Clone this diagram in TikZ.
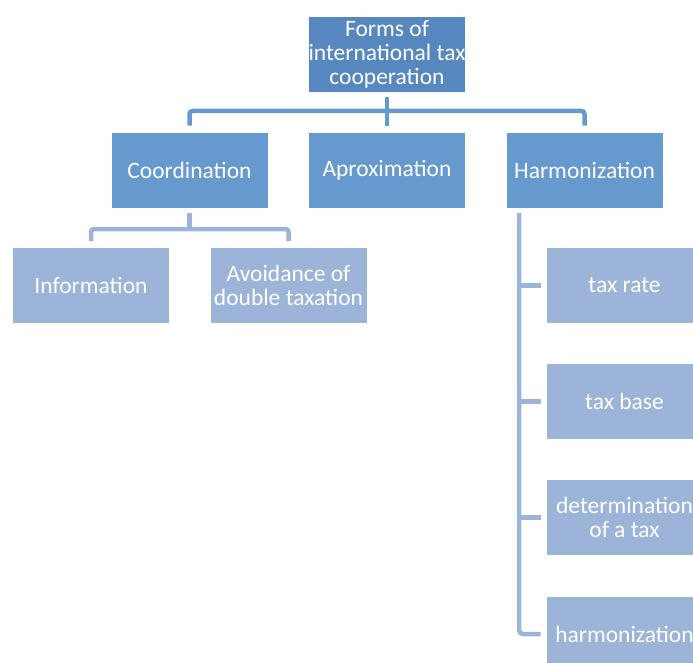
\documentclass[tikz,border=0pt]{standalone}
\usepackage{fontspec}
\setmainfont{Carlito}
\definecolor{cTop}{HTML}{5787BF}
\definecolor{cMid}{HTML}{6699CD}
\definecolor{cLow}{HTML}{9CB4D8}
\tikzset{
  box/.style={rectangle, minimum width=157pt, minimum height=76pt, inner sep=0pt,
    draw=white, line width=0.8pt, text=white, align=center,
    font=\fontsize{23.5}{24}\selectfont},
  topbox/.style={box, fill=cTop},
  midbox/.style={box, fill=cMid},
  lowbox/.style={box, fill=cLow},
  conntop/.style={draw=cMid, line width=4.5pt},
  connlow/.style={draw=cLow, line width=4.5pt},
}
\begin{document}
\begin{tikzpicture}[x=1pt,y=-1pt]
\useasboundingbox (0,0) rectangle (693,663);
\clip (0,0) rectangle (693,663);
\node[topbox] (top) at (387,54) {Forms of\\international tax\\cooperation};
\node[midbox] (coord) at (189.5,170) {Coordination};
\node[midbox] (aprox) at (387,170) {Aproximation};
\node[midbox] (harm) at (584.5,170) {Harmonization};
\node[lowbox] (info) at (91,285.5) {Information};
\node[lowbox] (avoid) at (288.5,285.5) {Avoidance of\\double taxation};
\node[lowbox] (h1) at (624.5,285.5) {tax rate};
\node[lowbox] (h2) at (624.5,401.5) {tax base};
\node[lowbox] (h3) at (624.5,517.5) {determination\\of a tax};
\node[lowbox] (h4) at (624.5,634) {harmonization};
% top connector
\coordinate (bar) at (387,111);
\draw[conntop] ([yshift=-5pt]top.south) -- ([yshift=6pt]aprox.north);
\draw[conntop, rounded corners=3pt] ([yshift=6pt]coord.north) |- (bar) -| ([yshift=6pt]harm.north);
% coordination connector
\coordinate (cbar) at (189.5,229);
\draw[connlow] ([yshift=-5pt]coord.south) -- (cbar);
\draw[connlow, rounded corners=3pt] ([yshift=6pt]info.north) |- (cbar) -| ([yshift=6pt]avoid.north);
% harmonization connector
\coordinate (hv) at (519,213);
\draw[connlow, rounded corners=4pt] (hv) |- ([xshift=-5pt]h4.west);
\draw[connlow] (hv |- h1.west) -- ([xshift=-5pt]h1.west);
\draw[connlow] (hv |- h2.west) -- ([xshift=-5pt]h2.west);
\draw[connlow] (hv |- h3.west) -- ([xshift=-5pt]h3.west);
\end{tikzpicture}
\end{document}
